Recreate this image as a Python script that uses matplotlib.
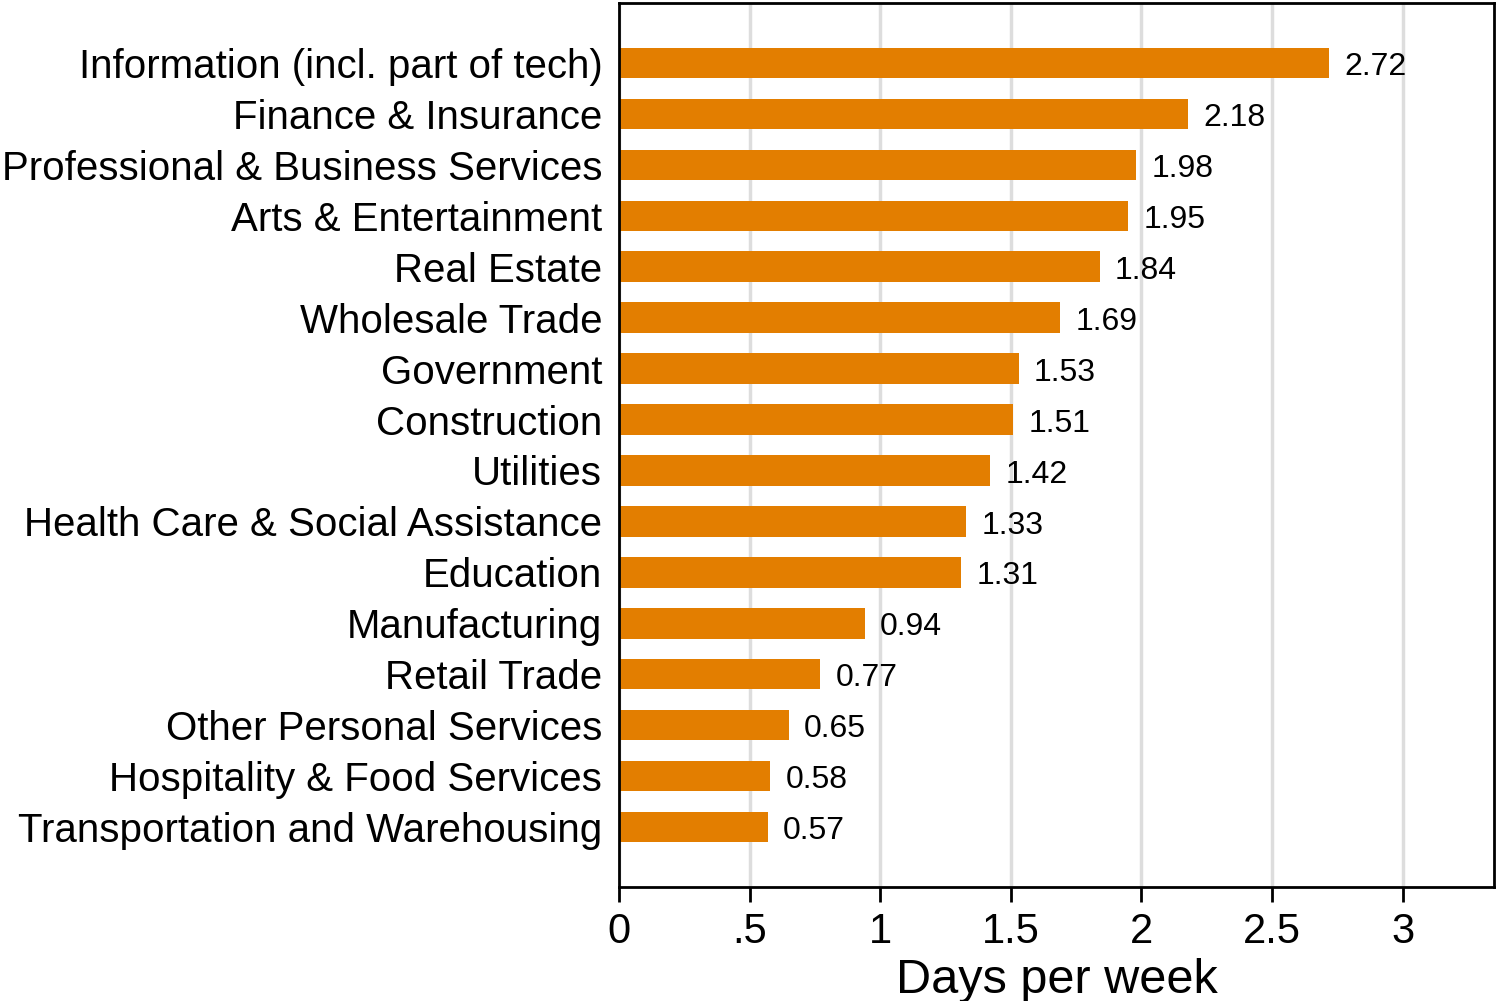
import matplotlib.pyplot as plt
import numpy as np

# datos (de arriba hacia abajo)
industrias = [
    "Information (incl. part of tech)",
    "Finance & Insurance",
    "Professional & Business Services",
    "Arts & Entertainment",
    "Real Estate",
    "Wholesale Trade",
    "Government",
    "Construction",
    "Utilities",
    "Health Care & Social Assistance",
    "Education",
    "Manufacturing",
    "Retail Trade",
    "Other Personal Services",
    "Hospitality & Food Services",
    "Transportation and Warehousing",
]
dias = [2.72, 2.18, 1.98, 1.95, 1.84, 1.69, 1.53, 1.51, 1.42, 1.33, 1.31,
        0.94, 0.77, 0.65, 0.58, 0.57]
xticks = [0, 0.5, 1, 1.5, 2, 2.5, 3]
xtick_labels = ["0", ".5", "1", "1.5", "2", "2.5", "3"]

plt.rcParams['font.family'] = ['Liberation Sans', 'DejaVu Sans']

fig = plt.figure(figsize=(14.96, 10.01), dpi=100)
ax = fig.add_axes([619 / 1496, 114 / 1001, 875 / 1496, 884 / 1001])

y = np.arange(len(industrias))
ax.barh(y, dias, height=0.6, color='#E37E00', zorder=2)

for yi, v in zip(y, dias):
    ax.annotate(f"{v:.2f}", (v, yi), xytext=(11, -3), textcoords='offset points',
                va='center', ha='left', fontsize=23, color='black', zorder=3)

ax.set_xlim(0, 3.35)
ax.set_ylim(len(industrias) - 1 + 1.18, -1.18)

ax.set_yticks(y)
ax.set_yticklabels(industrias, fontsize=29)
ax.tick_params(axis='y', length=0, pad=12)

ax.set_xticks(xticks)
ax.set_xticklabels(xtick_labels, fontsize=30)
ax.tick_params(axis='x', length=11, width=2, pad=7)

ax.grid(axis='x', color='#DDDDDD', linewidth=2.5, zorder=0)
ax.set_axisbelow(True)

for s in ax.spines.values():
    s.set_linewidth(2)
    s.set_color('black')

ax.set_xlabel("Days per week", fontsize=35, labelpad=4)

plt.savefig("out.png", dpi=100)
plt.close()
